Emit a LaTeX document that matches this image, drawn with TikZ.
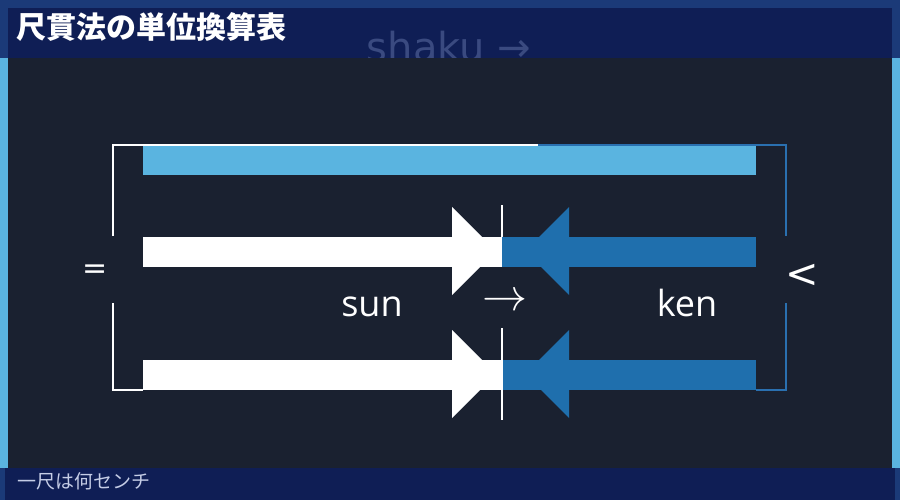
\documentclass[tikz,border=0pt]{standalone}
\usepackage{fontspec}
\setmainfont{DejaVu Sans}
\newfontfamily\jp{Noto Sans CJK JP}
\newfontfamily\opensans{Open Sans}
\definecolor{outerblue}{HTML}{1B3A78}
\definecolor{sideblue}{HTML}{5AB4E0}
\definecolor{barblue}{HTML}{0F1E55}
\definecolor{bgdark}{HTML}{1A2130}
\definecolor{lightbar}{HTML}{5AB4E0}
\definecolor{arrowblue}{HTML}{1F6FAD}
\definecolor{lineblue}{HTML}{2A70B0}
\definecolor{ghost}{HTML}{3A4A80}
\definecolor{foottext}{HTML}{C5CDE6}
\tikzset{
  lbl/.style={inner sep=0pt, text=white},
  bigword/.style={lbl, font=\opensans\fontsize{36}{36}\selectfont, anchor=base},
  wline/.style={draw=white, line width=2pt},
  bline/.style={draw=lineblue, line width=2pt},
}
\begin{document}
\begin{tikzpicture}[x=1pt,y=-1pt]
\useasboundingbox (0,0) rectangle (900,500);
% frame
\fill[outerblue] (0,0) rectangle (900,500);
\fill[sideblue] (0,58) rectangle (900,468);
\fill[barblue] (8,8) rectangle (892,58);
\node[lbl, anchor=base, text=ghost, font=\fontsize{40}{40}\selectfont] (ghost) at (449,62) {shaku →};
\fill[bgdark] (8,58) rectangle (892,468);
\fill[barblue] (5,468) rectangle (895,500);
\node[lbl, anchor=west, font=\jp\bfseries\fontsize{30}{30}\selectfont] (title) at (16,27) {尺貫法の単位換算表};
\node[lbl, anchor=west, text=foottext, font=\jp\fontsize{19}{19}\selectfont] (foot) at (17,481) {一尺は何センチ};
% top bar
\fill[lightbar] (143,145) rectangle (756,175);
% brackets
\coordinate (tl) at (113,145);
\coordinate (tm) at (538,145);
\coordinate (tr) at (786,145);
\coordinate (l1) at (113,236);
\coordinate (l2) at (113,303);
\coordinate (bl) at (113,390);
\coordinate (blin) at (143,390);
\coordinate (r1) at (786,236);
\coordinate (r2) at (786,303);
\coordinate (br) at (786,390);
\coordinate (brin) at (756,390);
\draw[wline] (l1) -- (tl) -- (tm);
\draw[bline] (tm) -- (tr) -- (r1);
\draw[wline] (l2) -- (bl) -- (blin);
\draw[bline] (r2) -- (br) -- (brin);
% arrows row 1
\fill[white] (143,237) rectangle (502,267);
\fill[white] (452,207) -- (452,295) -- (496,251) -- cycle;
\fill[arrowblue] (502,237) rectangle (756,267);
\fill[arrowblue] (569,207) -- (569,295) -- (525,251) -- cycle;
% arrows row 2
\fill[white] (143,360) rectangle (502,390);
\fill[white] (452,330) -- (452,418) -- (496,374) -- cycle;
\fill[arrowblue] (502,360) rectangle (756,390);
\fill[arrowblue] (569,330) -- (569,418) -- (525,374) -- cycle;
% divider
\coordinate (d1) at (502,205);
\coordinate (d2) at (502,237);
\coordinate (d3) at (502,328);
\coordinate (d4) at (502,420);
\draw[white, line width=1.6pt] (d1) -- (d2);
\draw[white, line width=1.6pt] (d3) -- (d4);
% labels
\node[bigword] (sun) at (372,316) {sun};
\node[bigword] (ken) at (687,316) {ken};
\node[lbl] (mid) at (505,302) {\scalebox{4.5}{$\rightarrow$}};
\node[lbl, font=\fontsize{30}{30}\selectfont] (eq) at (95,272) {=};
\node[lbl, font=\fontsize{40}{40}\selectfont] (lt) at (802,276) {<};
\end{tikzpicture}
\end{document}
